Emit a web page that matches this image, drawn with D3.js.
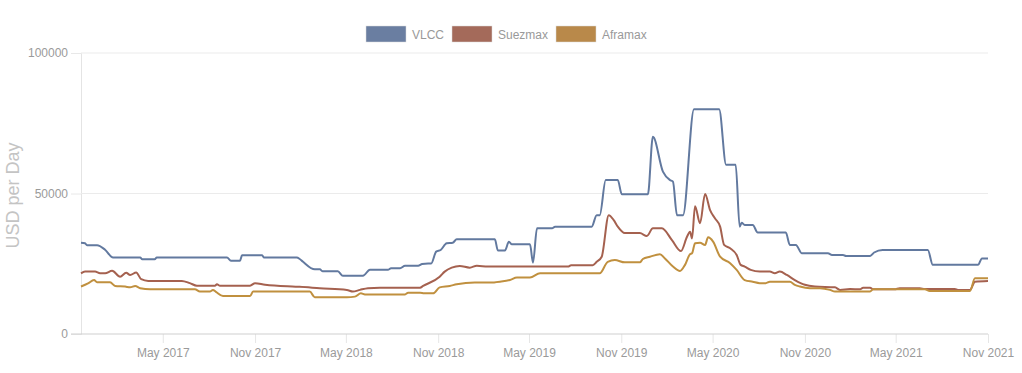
<!DOCTYPE html>
<meta charset="utf-8">
<title>Tanker Earnings</title>
<script src="https://d3js.org/d3.v7.min.js"></script>
<style>
  body { margin: 0; background: #fff; }
  text { font-family: "Liberation Sans", Arial, sans-serif; }
</style>
<body>
</body>
<script>
  const width = 1022, height = 373;

  const seriesNames = ["VLCC", "Suezmax", "Aframax"];
  const lineColors = ["#62799f", "#a5614f", "#c0903f"];
  const boxColors = ["#6a7ea1", "#a46a5a", "#b9894a"];

  const yTicks = [0, 50000, 100000];
  const xTickDates = ["2017-05-01", "2017-11-01", "2018-05-01", "2018-11-01", "2019-05-01",
                      "2019-11-01", "2020-05-01", "2020-11-01", "2021-05-01", "2021-11-01"];

  // [date, USD per day]
  const vlcc = [
    ["2016-11-19", 32500], ["2016-11-27", 32300], ["2016-12-01", 31600], ["2016-12-21", 31600],
    ["2017-01-06", 30000], ["2017-01-22", 27200], ["2017-03-17", 27200], ["2017-03-21", 26600],
    ["2017-04-15", 26600], ["2017-04-19", 27200], ["2017-09-06", 27200], ["2017-09-14", 26100],
    ["2017-10-02", 26100], ["2017-10-06", 28000], ["2017-11-15", 28000], ["2017-11-19", 27200],
    ["2018-01-23", 27200], ["2018-01-29", 26700], ["2018-02-04", 25800], ["2018-02-28", 23000],
    ["2018-03-10", 23000], ["2018-03-16", 22300], ["2018-04-15", 22300], ["2018-04-25", 20700],
    ["2018-06-04", 20700], ["2018-06-18", 22900], ["2018-07-24", 22900], ["2018-07-30", 23400],
    ["2018-08-17", 23400], ["2018-08-27", 24300], ["2018-09-22", 24300], ["2018-09-30", 24900],
    ["2018-10-12", 25100], ["2018-10-18", 25100], ["2018-10-28", 29300], ["2018-11-06", 29900],
    ["2018-11-18", 32300], ["2018-11-30", 32500], ["2018-12-08", 33700], ["2019-02-22", 33700],
    ["2019-02-28", 29700], ["2019-03-14", 29700], ["2019-03-22", 32800], ["2019-03-28", 31900],
    ["2019-05-03", 31900], ["2019-05-09", 25400], ["2019-05-17", 37600], ["2019-06-16", 37600],
    ["2019-06-22", 38200], ["2019-09-03", 38200], ["2019-09-13", 42300], ["2019-09-19", 42300],
    ["2019-10-01", 54800], ["2019-10-25", 54800], ["2019-11-02", 49700], ["2019-12-24", 49700],
    ["2020-01-03", 70200], ["2020-01-23", 57800], ["2020-02-06", 54800], ["2020-02-12", 54200],
    ["2020-02-20", 42300], ["2020-03-03", 42300], ["2020-03-25", 80000], ["2020-05-14", 80000],
    ["2020-05-28", 60200], ["2020-06-16", 60200], ["2020-06-24", 38200], ["2020-06-28", 39600],
    ["2020-07-04", 38800], ["2020-07-20", 38800], ["2020-07-30", 36100], ["2020-09-24", 36100],
    ["2020-10-02", 31700], ["2020-10-14", 31700], ["2020-10-26", 28700], ["2020-12-17", 28700],
    ["2020-12-25", 28100], ["2021-01-16", 28100], ["2021-01-22", 27800], ["2021-03-11", 27800],
    ["2021-03-19", 29000], ["2021-04-05", 29900], ["2021-07-04", 29900], ["2021-07-14", 24600],
    ["2021-10-12", 24600], ["2021-10-20", 26900], ["2021-11-01", 26900]
  ];

  const suezmax = [
    ["2016-11-19", 21600], ["2016-11-27", 22200], ["2016-12-17", 22200], ["2016-12-27", 21600],
    ["2017-01-06", 21600], ["2017-01-20", 22500], ["2017-02-05", 20400], ["2017-02-17", 21800],
    ["2017-02-25", 21000], ["2017-03-09", 21900], ["2017-03-19", 19500], ["2017-04-02", 18900],
    ["2017-06-08", 18900], ["2017-06-24", 18100], ["2017-07-08", 17200], ["2017-08-13", 17200],
    ["2017-08-17", 17700], ["2017-08-23", 17200], ["2017-10-22", 17200], ["2017-11-01", 18100],
    ["2017-11-21", 17500], ["2018-01-14", 16900], ["2018-01-29", 16800], ["2018-03-10", 16300],
    ["2018-05-03", 15700], ["2018-05-15", 15100], ["2018-05-29", 15700], ["2018-06-14", 16300],
    ["2018-07-08", 16500], ["2018-09-26", 16500], ["2018-10-02", 17100], ["2018-11-04", 20400],
    ["2018-11-14", 22200], ["2018-11-28", 23600], ["2018-12-14", 24200], ["2019-01-03", 23600],
    ["2019-01-17", 24300], ["2019-02-08", 24000], ["2019-07-18", 24000], ["2019-07-24", 24500],
    ["2019-09-05", 24500], ["2019-09-13", 25700], ["2019-09-23", 27500], ["2019-10-07", 42300],
    ["2019-10-17", 40500], ["2019-10-25", 38200], ["2019-11-08", 35900], ["2019-12-08", 35900],
    ["2019-12-22", 34900], ["2020-01-03", 37600], ["2020-01-21", 37600], ["2020-02-10", 33400],
    ["2020-02-28", 29500], ["2020-03-11", 34600], ["2020-03-17", 36400], ["2020-03-21", 34000],
    ["2020-03-27", 45500], ["2020-04-06", 39400], ["2020-04-16", 49800], ["2020-04-26", 44100],
    ["2020-05-06", 41100], ["2020-05-16", 38200], ["2020-05-24", 31700], ["2020-06-05", 30500],
    ["2020-06-18", 28100], ["2020-06-26", 24600], ["2020-07-04", 24000], ["2020-07-16", 22800],
    ["2020-08-03", 22200], ["2020-08-23", 22200], ["2020-09-02", 21600], ["2020-09-12", 22200],
    ["2020-09-26", 21000], ["2020-10-12", 19200], ["2020-11-01", 17500], ["2020-11-21", 16900],
    ["2020-12-31", 16600], ["2021-01-10", 15700], ["2021-01-30", 16000], ["2021-02-19", 15900],
    ["2021-02-25", 16500], ["2021-03-11", 16500], ["2021-03-17", 15900], ["2021-04-29", 15900],
    ["2021-05-09", 16300], ["2021-06-18", 16300], ["2021-06-28", 16000], ["2021-08-27", 16000],
    ["2021-09-02", 15700], ["2021-09-26", 15700], ["2021-10-06", 18600], ["2021-11-01", 18900]
  ];

  const aframax = [
    ["2016-11-19", 16900], ["2016-12-03", 18000], ["2016-12-15", 19200], ["2016-12-21", 18400],
    ["2017-01-16", 18400], ["2017-01-26", 17100], ["2017-02-15", 16900], ["2017-02-25", 16600],
    ["2017-03-07", 17100], ["2017-03-17", 16300], ["2017-04-06", 15900], ["2017-07-04", 15900],
    ["2017-07-14", 15100], ["2017-08-03", 15100], ["2017-08-09", 15700], ["2017-08-15", 15000],
    ["2017-08-29", 13500], ["2017-10-22", 13500], ["2017-10-28", 15100], ["2018-02-18", 15100],
    ["2018-02-28", 13100], ["2018-05-03", 13100], ["2018-05-19", 13300], ["2018-05-31", 14500],
    ["2018-06-08", 14100], ["2018-08-27", 14100], ["2018-09-02", 14700], ["2018-09-26", 14700],
    ["2018-10-04", 14500], ["2018-10-22", 14500], ["2018-11-04", 16600], ["2018-11-24", 17100],
    ["2018-12-08", 17700], ["2019-01-13", 18300], ["2019-02-12", 18300], ["2019-03-04", 18600],
    ["2019-03-24", 19200], ["2019-04-07", 20100], ["2019-05-03", 20100], ["2019-05-23", 21600],
    ["2019-09-19", 21600], ["2019-10-05", 25700], ["2019-10-19", 26300], ["2019-11-08", 25500],
    ["2019-12-08", 25500], ["2019-12-14", 26700], ["2019-12-28", 27500], ["2020-01-17", 28400],
    ["2020-01-27", 26900], ["2020-02-12", 24000], ["2020-02-26", 22400], ["2020-03-07", 24600],
    ["2020-03-17", 28400], ["2020-03-21", 28700], ["2020-03-27", 32300], ["2020-04-06", 32500],
    ["2020-04-16", 31700], ["2020-04-22", 34400], ["2020-05-02", 32900], ["2020-05-16", 27500],
    ["2020-06-05", 25200], ["2020-06-18", 22800], ["2020-07-04", 19200], ["2020-07-20", 18600],
    ["2020-08-03", 18100], ["2020-08-15", 18100], ["2020-08-23", 18600], ["2020-10-02", 18600],
    ["2020-10-12", 17500], ["2020-10-22", 16900], ["2020-11-11", 16300], ["2020-12-01", 16300],
    ["2020-12-21", 15700], ["2020-12-31", 15100], ["2021-03-11", 15100], ["2021-03-17", 15900],
    ["2021-06-28", 15900], ["2021-07-08", 15300], ["2021-09-26", 15300], ["2021-10-06", 19800],
    ["2021-11-01", 19800]
  ];

  const series = [vlcc, suezmax, aframax];

  const parse = d3.timeParse("%Y-%m-%d");
  const margin = { left: 81, right: 34, top: 53, bottom: 39 };

  const x = d3.scaleTime()
      .domain([parse("2016-11-19"), parse("2021-11-01")])
      .range([margin.left, width - margin.right]);

  const y = d3.scaleLinear()
      .domain([0, 100000])
      .range([height - margin.bottom, margin.top]);

  const svg = d3.select("body").append("svg")
      .attr("width", width)
      .attr("height", height);

  ////////////////////////// grid & axes //////////////////////////

  const yAxis = svg.append("g")
      .attr("transform", `translate(${margin.left},0)`)
      .call(d3.axisLeft(y).tickValues(yTicks).tickFormat(d3.format("d"))
        .tickSize(10).tickPadding(3));
  yAxis.select(".domain").attr("stroke", "#e4e4e4");
  yAxis.selectAll(".tick line").attr("stroke", "#e8e8e8");
  yAxis.selectAll(".tick text").attr("fill", "#9a9a9a").style("font-size", "12px");

  svg.append("g")
    .selectAll("line")
    .data(yTicks.filter(d => d > 0))
    .join("line")
      .attr("x1", margin.left).attr("x2", width - margin.right)
      .attr("y1", d => y(d)).attr("y2", d => y(d))
      .attr("stroke", "#ebebeb");

  const xAxis = svg.append("g")
      .attr("transform", `translate(0,${height - margin.bottom})`)
      .call(d3.axisBottom(x).tickValues(xTickDates.map(parse))
        .tickFormat(d3.timeFormat("%b %Y")).tickSize(9).tickPadding(5));
  xAxis.select(".domain").remove();
  xAxis.selectAll(".tick line").attr("stroke", "#e6e6e6");
  xAxis.selectAll(".tick text").attr("fill", "#9a9a9a").style("font-size", "12px");

  svg.append("line")
      .attr("x1", margin.left - 10).attr("x2", width - margin.right)
      .attr("y1", y(0)).attr("y2", y(0))
      .attr("stroke", "#cfcfcf");

  svg.append("text")
      .attr("transform", `translate(19,${(y(0) + y(100000)) / 2 + 2}) rotate(-90)`)
      .attr("text-anchor", "middle")
      .attr("fill", "#c4c4c4")
      .style("font-size", "18px")
      .text("USD per Day");

  ////////////////////////// lines //////////////////////////

  const line = d3.line()
      .x(d => x(parse(d[0])))
      .y(d => y(d[1]))
      .curve(d3.curveMonotoneX);

  svg.append("g")
    .selectAll("path")
    .data(series)
    .join("path")
      .attr("d", line)
      .attr("fill", "none")
      .attr("stroke", (d, i) => lineColors[i])
      .attr("stroke-width", 2)
      .attr("stroke-linejoin", "round");

  ////////////////////////// legend //////////////////////////

  const legendX = [366, 452, 556];
  const legend = svg.append("g")
    .selectAll("g")
    .data(seriesNames)
    .join("g")
      .attr("transform", (d, i) => `translate(${legendX[i]},26)`);

  legend.append("rect")
      .attr("width", 40).attr("height", 16)
      .attr("fill", (d, i) => boxColors[i])
      .attr("stroke", "#dcdcdc")
      .attr("stroke-width", 0.5);

  legend.append("text")
      .attr("x", 46).attr("y", 12.5)
      .attr("fill", "#999")
      .style("font-size", "12px")
      .text(d => d);
</script>
